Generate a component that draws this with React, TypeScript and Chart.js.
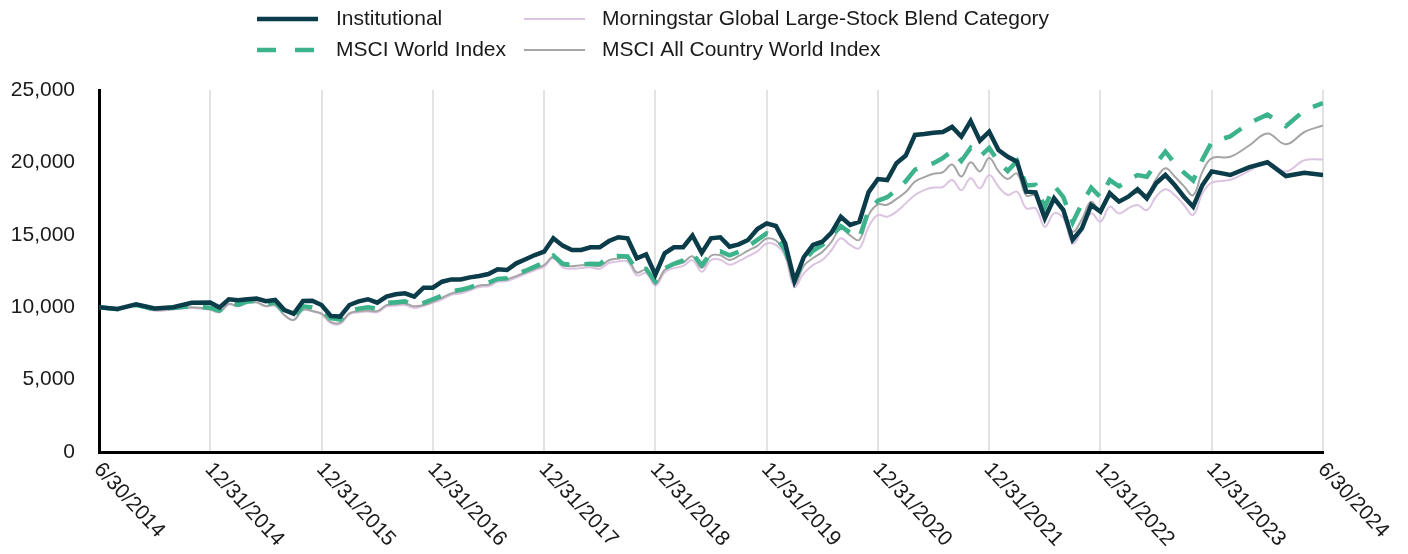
import React, { useEffect, useRef } from "react";
import { Chart, registerables } from "chart.js";

Chart.register(...registerables);

// Tick labels for the x axis (segment boundaries)
const tickLabels: string[] = [
  "6/30/2014", "12/31/2014", "12/31/2015", "12/31/2016", "12/31/2017", "12/31/2018",
  "12/31/2019", "12/31/2020", "12/31/2021", "12/31/2022", "12/31/2023", "6/30/2024",
];

const yTickValues: number[] = [0, 5000, 10000, 15000, 20000, 25000];

const seriesNames: string[] = [
  "Institutional",
  "MSCI World Index",
  "Morningstar Global Large-Stock Blend Category",
  "MSCI All Country World Index",
];

// Monthly values, 6/2014 .. 6/2024 (121 month-ends)
const institutional: number[] = [
  10000, 9880, 10200, 9910, 10000, 10300, 10320,
  9980, 10550, 10480, 10550, 10600, 10420, 10500, 9800, 9550, 10430, 10450, 10150,
  9400, 9350, 10150, 10400, 10550, 10310, 10730, 10890, 10960, 10730, 11350, 11350,
  11760, 11920, 11920, 12060, 12150, 12290, 12620, 12570, 13030, 13310, 13600, 13830,
  14760, 14250, 13950, 13950, 14140, 14140, 14570, 14830, 14760, 13380, 13650, 12250,
  13720, 14140, 14140, 14950, 13750, 14760, 14830, 14180, 14340, 14640, 15400, 15790,
  15610, 14410, 11800, 13450, 14300, 14520, 15150, 16250, 15680, 15900, 17950, 18850,
  18780, 19940, 20470, 21900, 21960, 22050, 22100, 22450, 21780, 22850, 21500, 22120,
  20860, 20390, 20050, 17980, 17930, 16140, 17520, 16710, 14650, 15450, 17060, 16600,
  17870, 17290, 17630, 18140, 17520, 18560, 19130, 18440, 17630, 16940, 18440, 19380,
  19130, 19660, 20010, 19060, 19290, 19130,
];

const msciWorld: number[] = [
  10000, 9860, 10150, 9870, 9960, 10060, 9960,
  9780, 10330, 10180, 10400, 10430, 10200, 10350, 9650, 9320, 10060, 9990, 9820,
  9250, 9150, 9750, 9900, 10000, 9900, 10300, 10350, 10400, 10150, 10300, 10550,
  10800, 11100, 11200, 11370, 11600, 11700, 11950, 12000, 12280, 12520, 12800, 13100,
  13560, 13000, 12910, 12950, 13000, 12980, 13490, 13540, 13500, 12550, 12650, 11750,
  12680, 13000, 13230, 13700, 12900, 13730, 13850, 13580, 13830, 14200, 14650, 15100,
  14850, 13950, 11850, 13200, 13900, 14300, 14950, 15600, 15150, 14800, 16700, 17350,
  17600, 18100, 18700, 19500, 19700, 19950, 20300, 20800, 20100, 21000, 20400, 21000,
  20050, 19400, 20100, 18400, 18450, 16900, 18400, 17600, 15850, 17150, 18250, 17600,
  18780, 18350, 18780, 19130, 19010, 19940, 20740, 19940, 19300, 18750, 20200, 21400,
  21800, 22700, 23300, 22500, 23600, 24100,
];

const morningstar: number[] = [
  10000, 9830, 10080, 9760, 9840, 9950, 9820,
  9650, 10180, 10050, 10280, 10300, 10050, 10100, 9450, 9130, 9800, 9720, 9520,
  8900, 8850, 9500, 9650, 9700, 9650, 10050, 10100, 10150, 9950, 10100, 10300,
  10550, 10850, 10950, 11150, 11400, 11450, 11750, 11800, 12050, 12300, 12550, 12800,
  13380, 12750, 12650, 12700, 12750, 12650, 13050, 13150, 13150, 12200, 12350, 11500,
  12400, 12700, 12850, 13250, 12450, 13250, 13280, 12930, 13180, 13520, 13860, 14400,
  14300, 13490, 11420, 12340, 12910, 13260, 13950, 14760, 14300, 14070, 15560, 16370,
  16250, 16600, 17170, 17750, 18090, 18260, 18300, 18780, 18090, 18900, 18210, 19130,
  18320, 17750, 17980, 16830, 16830, 15560, 16480, 16140, 14410, 15330, 16480, 15900,
  16940, 16480, 16830, 17060, 16710, 17630, 18140, 17750, 17060, 16370, 17870, 18600,
  18800, 19400, 20000, 19380, 20150, 20200,
];

const acwi: number[] = [
  10000, 9850, 10120, 9800, 9880, 9990, 9860,
  9680, 10230, 10080, 10360, 10350, 10080, 10150, 9450, 9120, 9830, 9740, 9550,
  8990, 8920, 9580, 9720, 9780, 9730, 10140, 10200, 10260, 10070, 10150, 10380,
  10650, 10950, 11080, 11250, 11500, 11560, 11880, 11930, 12150, 12400, 12650, 12900,
  13480, 12900, 12830, 12900, 12900, 12840, 13240, 13350, 13360, 12400, 12580, 11650,
  12570, 12910, 13080, 13520, 12720, 13550, 13590, 13260, 13540, 13910, 14240, 14740,
  14600, 13700, 11600, 12850, 13400, 13820, 14530, 15440, 14960, 14650, 16370, 17100,
  17070, 17480, 17950, 18680, 18980, 19220, 19320, 19850, 19030, 20010, 19380, 20300,
  19400, 18860, 19240, 17720, 17730, 16350, 17320, 16780, 15220, 16080, 17280, 16650,
  17650, 17290, 17670, 17900, 17800, 18850, 19600, 19030, 18360, 17740, 19360, 20280,
  20390, 21150, 22000, 21250, 22100, 22550,
];

// Month index -> axis position. The first and last half-years each fill one
// tick interval, like the full years in between.
function monthToX(m: number): number {
  if (m <= 6) return m / 6;
  if (m >= 114) return 10 + (m - 114) / 6;
  return 1 + (m - 6) / 12;
}

const toPoints = (arr: number[]) => arr.map((v, i) => ({ x: monthToX(i), y: v }));

const FONT = '"Liberation Sans", Arial, sans-serif';
const TEXT_COLOR = "#1a1a1a";
const C_INST = "#0b3c49";
const C_WORLD = "#3cb38b";
const C_MSTAR = "#dcc3e2";
const C_ACWI = "#a5a5a5";

const legendPlugin = {
  id: "customLegend",
  afterDraw(chart: any) {
    const ctx = chart.ctx as CanvasRenderingContext2D;
    const items = [
      { label: seriesNames[0], color: C_INST, width: 4.5, dash: [] as number[], x0: 257, x1: 318, tx: 336, y: 19 },
      { label: seriesNames[1], color: C_WORLD, width: 4.5, dash: [19, 19], x0: 257, x1: 318, tx: 336, y: 50 },
      { label: seriesNames[2], color: C_MSTAR, width: 2, dash: [] as number[], x0: 524, x1: 585, tx: 602, y: 19 },
      { label: seriesNames[3], color: C_ACWI, width: 2, dash: [] as number[], x0: 524, x1: 585, tx: 602, y: 50 },
    ];
    ctx.save();
    for (const it of items) {
      ctx.beginPath();
      ctx.setLineDash(it.dash);
      ctx.strokeStyle = it.color;
      ctx.lineWidth = it.width;
      ctx.moveTo(it.x0, it.y);
      ctx.lineTo(it.x1, it.y);
      ctx.stroke();
    }
    ctx.setLineDash([]);
    ctx.font = `21px ${FONT}`;
    ctx.fillStyle = TEXT_COLOR;
    ctx.textAlign = "left";
    ctx.textBaseline = "middle";
    for (const it of items) ctx.fillText(it.label, it.tx, it.y);
    ctx.restore();
  },
};

const xLabelPlugin = {
  id: "rotatedXLabels",
  afterDraw(chart: any) {
    const ctx = chart.ctx as CanvasRenderingContext2D;
    const xs = chart.scales.x;
    const bottom = chart.chartArea.bottom;
    ctx.save();
    ctx.font = `21px ${FONT}`;
    ctx.fillStyle = TEXT_COLOR;
    ctx.textAlign = "left";
    ctx.textBaseline = "top";
    tickLabels.forEach((lab, i) => {
      const px = xs.getPixelForValue(i);
      ctx.save();
      ctx.translate(px + 6, bottom + 7);
      ctx.rotate((47 * Math.PI) / 180);
      ctx.fillText(lab, 0, 0);
      ctx.restore();
    });
    ctx.restore();
  },
};

export default function App() {
  const ref = useRef<HTMLCanvasElement | null>(null);

  useEffect(() => {
    if (!ref.current) return;
    const chart = new Chart(ref.current, {
      type: "line",
      data: {
        datasets: [
          {
            label: seriesNames[0],
            data: toPoints(institutional),
            borderColor: C_INST,
            borderWidth: 4.5,
            pointRadius: 0,
            tension: 0,
            borderJoinStyle: "miter",
          },
          {
            label: seriesNames[1],
            data: toPoints(msciWorld),
            borderColor: C_WORLD,
            borderWidth: 4.5,
            borderDash: [20, 15],
            pointRadius: 0,
            tension: 0,
          },
          {
            label: seriesNames[3],
            data: toPoints(acwi),
            borderColor: C_ACWI,
            borderWidth: 2,
            pointRadius: 0,
            tension: 0.4,
          },
          {
            label: seriesNames[2],
            data: toPoints(morningstar),
            borderColor: C_MSTAR,
            borderWidth: 2,
            pointRadius: 0,
            tension: 0.4,
          },
        ],
      },
      options: {
        animation: false,
        responsive: true,
        maintainAspectRatio: false,
        layout: { padding: { left: 0, right: 85, top: 90, bottom: 102 } },
        plugins: {
          legend: { display: false },
          tooltip: { enabled: false },
        },
        scales: {
          x: {
            type: "linear",
            min: 0,
            max: tickLabels.length - 1,
            afterFit: (s: any) => { s.height = 0; },
            ticks: { display: false, stepSize: 1 },
            grid: { display: true, color: "#e2e2e2", lineWidth: 2, drawTicks: false },
            border: { display: true, color: "#000", width: 3 },
          },
          y: {
            min: yTickValues[0],
            max: yTickValues[yTickValues.length - 1],
            afterFit: (s: any) => { s.width = 99; },
            afterBuildTicks: (s: any) => { s.ticks = yTickValues.map((v) => ({ value: v })); },
            ticks: {
              padding: 24,
              color: TEXT_COLOR,
              font: { family: FONT, size: 21 },
              callback: (v: any) => Number(v).toLocaleString("en-US"),
            },
            grid: { display: false, drawTicks: false },
            border: { display: true, color: "#000", width: 3 },
          },
        },
      },
      plugins: [legendPlugin, xLabelPlugin],
    });
    return () => chart.destroy();
  }, []);

  return (
    <div style={{ position: "absolute", left: 0, top: 0, width: 1408, height: 554 }}>
      <canvas ref={ref} />
    </div>
  );
}
